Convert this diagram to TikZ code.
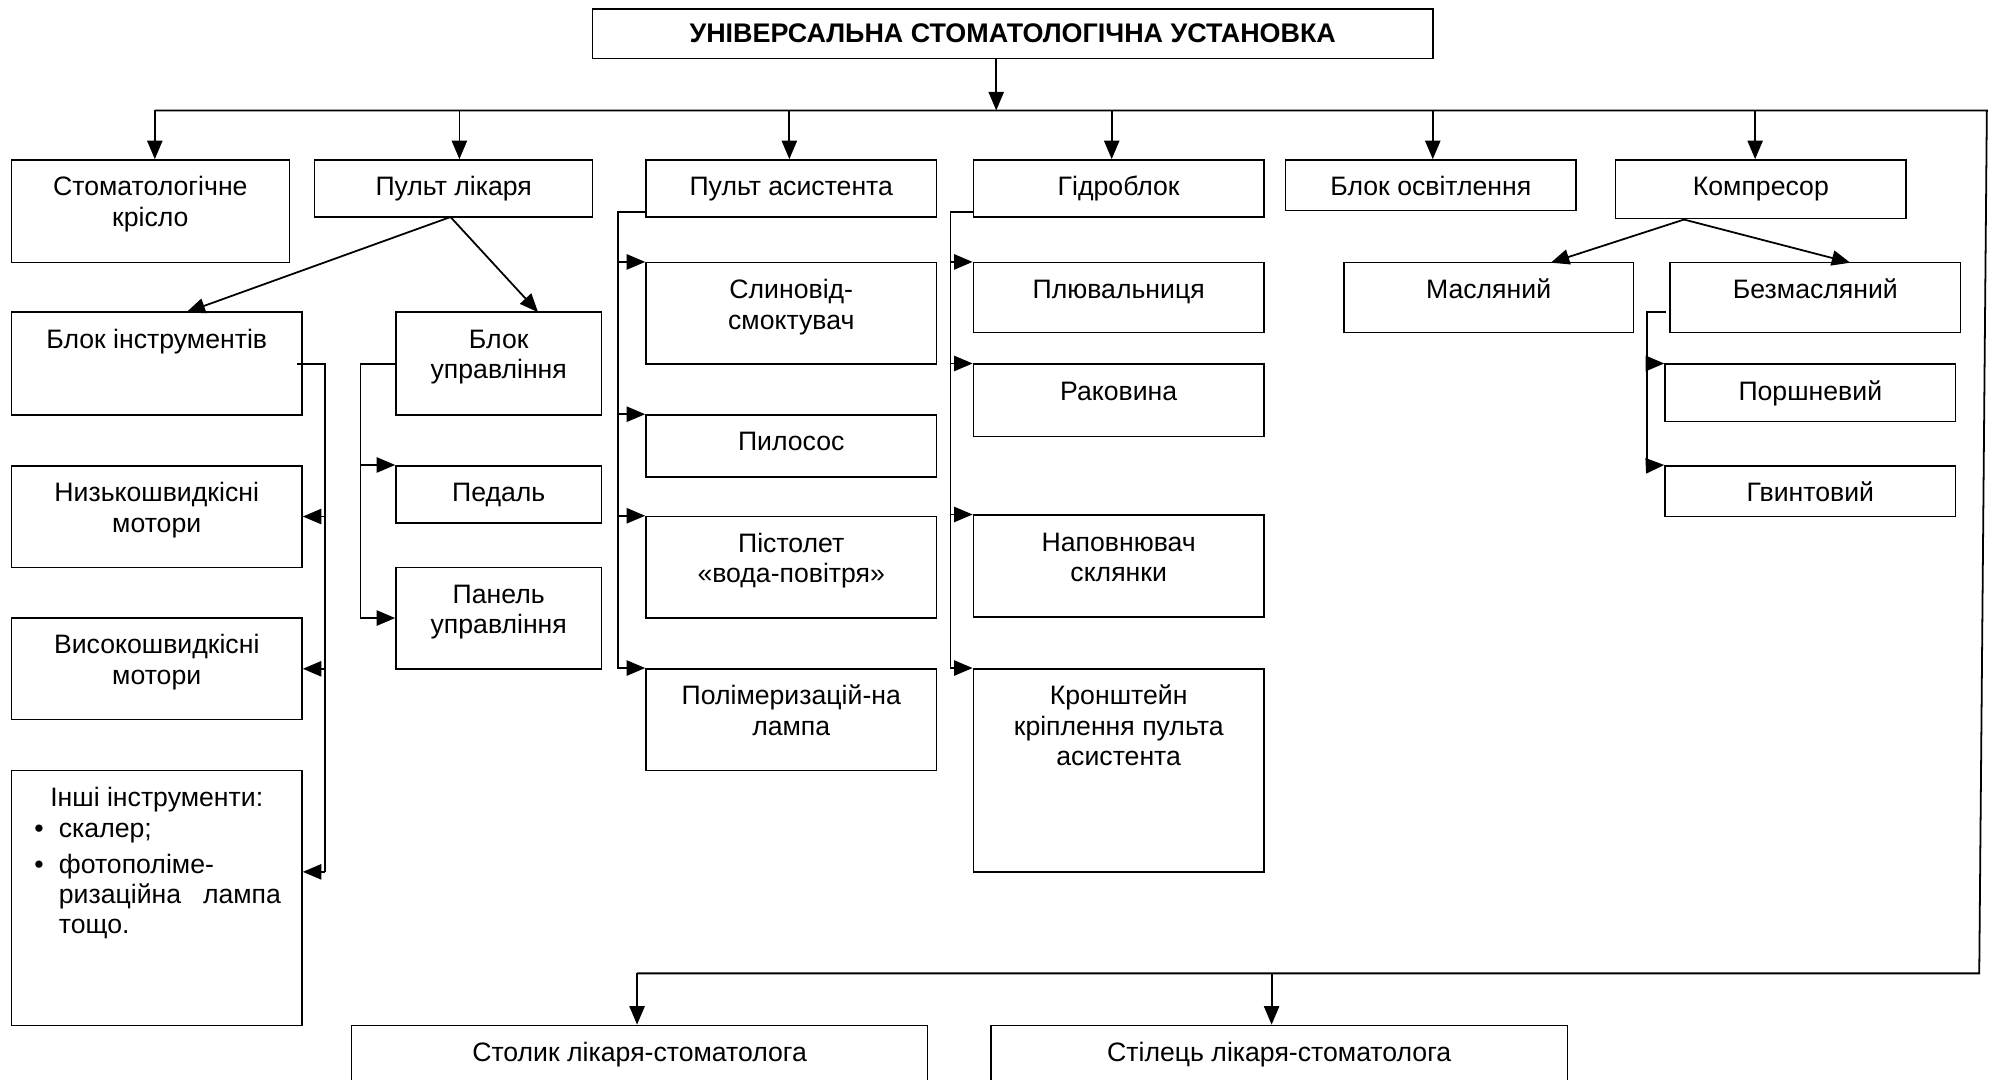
\documentclass[tikz,border=0pt]{standalone}
\usepackage{fontspec}
\setmainfont{Liberation Sans}
\usetikzlibrary{arrows.meta,fit}
\newcommand\fs{\fontsize{10.5pt}{12pt}\selectfont}
\newcommand\fl{\rule{0pt}{8pt}}
\tikzset{
  box/.style={draw, line width=0.6pt, inner sep=0pt},
  txt/.style={font=\fs, align=center, inner sep=0pt, anchor=north},
  ln/.style={line width=0.7pt},
  arr/.style={line width=0.7pt, -{Triangle[length=7.3pt,width=6pt]}},
}
% name, x1, y1, x2, y2, text
\newcommand\bx[6]{%
  \node[box, fit={(#2,#3) (#4,#5)}] (#1) {};
  \node[txt] (#1-t) at ([yshift=-6.25pt]#1.north) {\fl#6};}
\begin{document}
\begin{tikzpicture}[x=0.5pt,y=-0.5pt]
\useasboundingbox (0,0) rectangle (1567.3,851);
\clip (0,0) rectangle (1567.3,851);

% title
\node[box, fit={(467,7) (1129,46)}] (title) {};
\node[font=\fontsize{10.6pt}{12pt}\selectfont\bfseries, inner sep=0pt] (title-t) at (title.center) {УНІВЕРСАЛЬНА СТОМАТОЛОГІЧНА УСТАНОВКА};

% first row
\bx{chair}{9}{126}{228}{207}{Стоматологічне\\крісло}
\bx{pl}{248}{126}{467}{171}{Пульт лікаря}
\bx{pa}{509}{126}{738}{171}{Пульт асистента}
\bx{hyd}{767}{126}{996}{171}{Гідроблок}
\bx{light}{1013}{126}{1242}{166}{Блок освітлення}
\bx{comp}{1273}{126}{1502}{172}{Компресор}

% doctor console
\bx{bi}{9}{246}{238}{327}{Блок інструментів}
\bx{bu}{312}{246}{474}{327}{Блок\\управління}
\bx{lsm}{9}{367}{238}{447}{Низькошвидкісні\\мотори}
\bx{hsm}{9}{487}{238}{567}{Високошвидкісні\\мотори}
\bx{oth}{9}{607}{238}{808}{Інші інструменти:}
\node[font=\fs, align=left, inner sep=0pt, anchor=north west] (oth-l) at (46,643.5)
  {\fl\llap{\textbullet\hspace{6pt}}скалер;\\[2pt]
   \llap{\textbullet\hspace{6pt}}фотополіме-\\
   \makebox[87.5pt][s]{ризаційна лампа}\\
   тощо.};
\bx{ped}{312}{367}{474}{412}{Педаль}
\bx{pan}{312}{447}{474}{527}{Панель\\управління}

% assistant console
\bx{sl}{509}{207}{738}{287}{Слиновід-\\смоктувач}
\bx{pil}{509}{327}{738}{376}{Пилосос}
\bx{pist}{509}{407}{738}{487}{Пістолет\\«вода-повітря»}
\bx{pol}{509}{527}{738}{607}{Полімеризацій-на\\лампа}

% hydro block
\bx{plv}{767}{207}{996}{262}{Плювальниця}
\bx{rak}{767}{287}{996}{344}{Раковина}
\bx{nap}{767}{406}{996}{486}{Наповнювач\\склянки}
\bx{kr}{767}{527}{996}{687}{Кронштейн\\кріплення пульта\\асистента}

% compressor
\bx{mas}{1059}{207}{1287}{262}{Масляний}
\bx{bez}{1316}{207}{1545}{262}{Безмасляний}
\bx{por}{1312}{287}{1541}{332}{Поршневий}
\bx{gv}{1312}{367}{1541}{407}{Гвинтовий}

% bottom
\bx{stol}{277}{808}{731}{900}{Столик лікаря-стоматолога}
\bx{stil}{781}{808}{1235}{900}{Стілець лікаря-стоматолога}

% ---------- connectors ----------
\coordinate (bt) at (785,87);
\coordinate (b1) at (122,87);
\coordinate (b2) at (362,87);
\coordinate (b3) at (622,87);
\coordinate (b4) at (876,87);
\coordinate (b5) at (1129,87);
\coordinate (b6) at (1383,87);
\coordinate (bR) at (1565.6,87);
\coordinate (dR) at (1559.6,767);
\coordinate (d1) at (502,767);
\coordinate (d2) at (1002,767);

\draw[arr] (title.south -| bt) -- (bt);
\draw[ln] (b1) -- (bR) -- (dR) -- (d1);
\draw[arr] (b1) -- (b1 |- chair.north);
\draw[arr] (b2) -- (b2 |- pl.north);
\draw[arr] (b3) -- (b3 |- pa.north);
\draw[arr] (b4) -- (b4 |- hyd.north);
\draw[arr] (b5) -- (b5 |- light.north);
\draw[arr] (b6) -- (b6 |- comp.north);
\draw[arr] (d1) -- (d1 |- stol.north);
\draw[arr] (d2) -- (d2 |- stil.north);

% doctor console diagonals
\coordinate (plo) at (355,171);
\coordinate (bii) at (147,246);
\coordinate (bui) at (424,246);
\draw[arr] (plo) -- (bii);
\draw[arr] (plo) -- (bui);

% instrument block bracket
\coordinate (bio) at (234,287);
\coordinate (biv) at (256,687);
\draw[ln] (bio) -| (biv);
\draw[arr] (biv |- lsm.east) -- (lsm.east);
\draw[arr] (biv |- hsm.east) -- (hsm.east);
\draw[arr] (biv) -- (biv -| oth.east);

% control block bracket
\coordinate (buo) at (312,287);
\coordinate (buv) at (284,487);
\draw[ln] (buo) -| (buv);
\draw[arr] (buv |- ped.north west) -- (ped.north west);
\draw[arr] (buv) -- (buv -| pan.west);

% assistant bracket
\coordinate (pao) at (509,167);
\coordinate (pav) at (487,527);
\draw[ln] (pao) -| (pav);
\draw[arr] (pav |- sl.north west) -- (sl.north west);
\draw[arr] (pav |- pil.north west) -- (pil.north west);
\draw[arr] (pav |- pist.north west) -- (pist.north west);
\draw[arr] (pav |- pol.north west) -- (pol.north west);

% hydro bracket
\coordinate (hyo) at (767,167);
\coordinate (hyv) at (749,527);
\draw[ln] (hyo) -| (hyv);
\draw[arr] (hyv |- plv.north west) -- (plv.north west);
\draw[arr] (hyv |- rak.north west) -- (rak.north west);
\draw[arr] (hyv |- nap.north west) -- (nap.north west);
\draw[arr] (hyv |- kr.north west) -- (kr.north west);

% compressor
\coordinate (cpo) at (1327,173);
\coordinate (masi) at (1222,207);
\coordinate (bezi) at (1458,207);
\draw[arr] (cpo) -- (masi);
\draw[arr] (cpo) -- (bezi);
\coordinate (bzo) at (1313,246);
\coordinate (bzv) at (1298,367);
\draw[ln] (bzo) -| (bzv);
\draw[arr] (bzv |- por.north west) -- (por.north west);
\draw[arr] (bzv) -- (gv.north west);
\end{tikzpicture}
\end{document}
